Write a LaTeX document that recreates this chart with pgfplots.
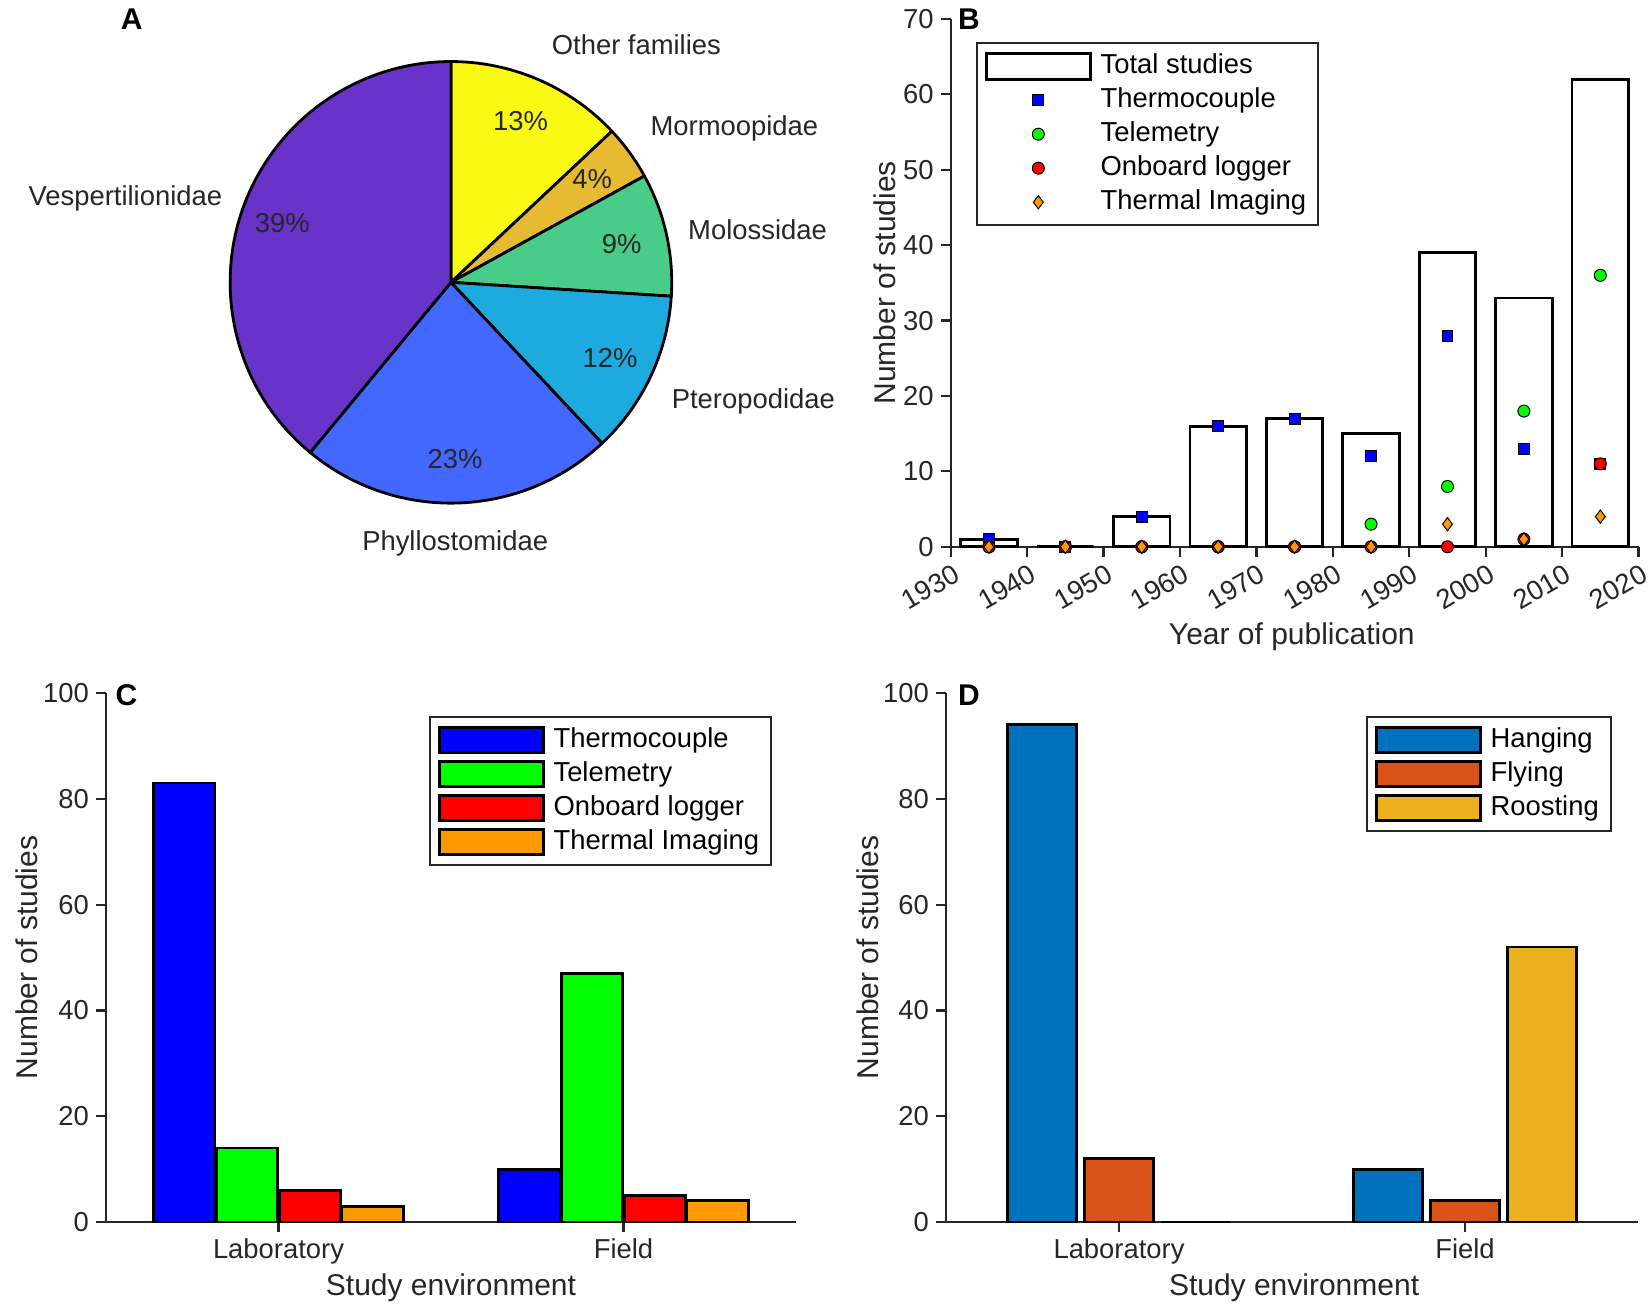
\documentclass[border=0pt]{standalone}
\usepackage{fontspec}
\setmainfont{Liberation Sans}
\usepackage{pgfplots}
\pgfplotsset{compat=1.18}
\definecolor{axgray}{RGB}{38,38,38}
\definecolor{cVesp}{RGB}{103,51,200}
\definecolor{cPhyl}{RGB}{66,104,255}
\definecolor{cPter}{RGB}{28,170,223}
\definecolor{cMol}{RGB}{73,204,136}
\definecolor{cMorm}{RGB}{230,186,51}
\definecolor{cOther}{RGB}{248,250,20}
\definecolor{cTC}{RGB}{0,0,255}
\definecolor{cTel}{RGB}{0,255,0}
\definecolor{cLog}{RGB}{255,0,0}
\definecolor{cIR}{RGB}{255,153,0}
\definecolor{cHang}{RGB}{0,114,189}
\definecolor{cFly}{RGB}{217,83,25}
\definecolor{cRoost}{RGB}{237,177,32}
\newcommand{\ticksz}{\fontsize{13.7}{16}\selectfont}
\newcommand{\labsz}{\fontsize{15}{18}\selectfont}
\pgfplotsset{
  mystyle/.style={
    scale only axis,
    axis x line*=bottom, axis y line*=left,
    x axis line style={-}, y axis line style={-},
    axis line style={line width=1.1pt, draw=axgray},
    tick align=outside,
    major tick length=5pt,
    tick style={line width=1.1pt, draw=axgray},
    tick label style={font=\ticksz, text=axgray},
    label style={font=\labsz, text=axgray},
    /pgf/number format/assume math mode=true,
    /pgf/number format/1000 sep={},
    clip=false,
    legend cell align=left,
    legend style={draw=axgray, line width=1pt, font=\ticksz, text=black,
      inner xsep=4pt, inner ysep=3.5pt, row sep=1pt,
      /tikz/every odd column/.append style={column sep=2.5pt},
      nodes={inner ysep=1.5pt, inner xsep=2pt, text height=10pt, text depth=3pt}},
  },
  barleg/.style={legend image code/.code={\draw[fill=#1,draw=black,line width=1.3pt] (0pt,-6.3pt) rectangle (52pt,6.3pt);}},
  markleg/.style={legend image code/.code={\draw[mark repeat=1] plot coordinates {(26pt,0pt)};}},
}
\begin{document}
\begin{tikzpicture}
\useasboundingbox (0,0) rectangle (826pt,656pt);

% ---------------- Panel A: pie ----------------
\begin{axis}[at={(0pt,656pt)}, anchor=north west, scale only axis,
  width=421.44pt, height=295pt, xmin=0, xmax=800, ymin=-560, ymax=0,
  hide axis, clip=false]
\fill[cOther, draw=black, line width=1.4pt, line join=round] (axis cs:428,-268) -- ++(90:110.4pt) arc[start angle=90, end angle=43.2, radius=110.4pt] -- cycle;
\fill[cMorm, draw=black, line width=1.4pt, line join=round] (axis cs:428,-268) -- ++(43.2:110.4pt) arc[start angle=43.2, end angle=28.8, radius=110.4pt] -- cycle;
\fill[cMol, draw=black, line width=1.4pt, line join=round] (axis cs:428,-268) -- ++(28.8:110.4pt) arc[start angle=28.8, end angle=-3.6, radius=110.4pt] -- cycle;
\fill[cPter, draw=black, line width=1.4pt, line join=round] (axis cs:428,-268) -- ++(-3.6:110.4pt) arc[start angle=-3.6, end angle=-46.8, radius=110.4pt] -- cycle;
\fill[cPhyl, draw=black, line width=1.4pt, line join=round] (axis cs:428,-268) -- ++(-46.8:110.4pt) arc[start angle=-46.8, end angle=-129.6, radius=110.4pt] -- cycle;
\fill[cVesp, draw=black, line width=1.4pt, line join=round] (axis cs:428,-268) -- ++(-129.6:110.4pt) arc[start angle=-129.6, end angle=-270, radius=110.4pt] -- cycle;
\begin{scope}[every node/.style={font=\ticksz, text=axgray, inner sep=0pt}]
\node at (axis cs:494,-115) {13\%};
\node at (axis cs:562,-170) {4\%};
\node at (axis cs:590,-232) {9\%};
\node at (axis cs:579,-340) {12\%};
\node at (axis cs:432,-436) {23\%};
\node at (axis cs:268,-212) {39\%};
\node at (axis cs:604,-42) {Other families};
\node at (axis cs:697,-122) {Mormoopidae};
\node at (axis cs:719,-218) {Molossidae};
\node at (axis cs:715,-381) {Pteropodidae};
\node at (axis cs:432,-516) {Phyllostomidae};
\node at (axis cs:119,-188) {Vespertilionidae};
\end{scope}
\end{axis}

% ---------------- Panel B ----------------
\begin{axis}[mystyle, at={(475.35pt,382.6pt)}, anchor=south west,
  width=343.9pt, height=263.9pt,
  xmin=1930, xmax=2020, ymin=0, ymax=70,
  xtick={1930,1940,...,2020}, ytick={0,10,...,70},
  x tick label style={rotate=30, anchor=north east, inner sep=1pt, yshift=-2pt},
  xlabel={Year of publication}, ylabel={Number of studies},
  xlabel style={at={(axis description cs:0.496,-0.171)}, anchor=center},
  ylabel style={at={(axis description cs:-0.0955,0.5)}, anchor=center},
  legend style={at={(rel axis cs:0.0368,0.956)}, anchor=north west},
]
\addplot[ybar, bar width=7.4, bar shift=0, fill=white, draw=black, line width=1.4pt,
  legend image code/.code={\draw[fill=white,draw=black,line width=1.3pt] (0pt,-6.5pt) rectangle (52pt,6.5pt);}]
  coordinates {(1935,1) (1945,0) (1955,4) (1965,16) (1975,17) (1985,15) (1995,39) (2005,33) (2015,62)};
\addlegendentry{Total studies}
\addplot[only marks, mark=square*, mark size=2.7pt, mark options={fill=cTC, draw=black, line width=0.5pt}, markleg]
  coordinates {(1935,1) (1945,0) (1955,4) (1965,16) (1975,17) (1985,12) (1995,28) (2005,13) (2015,11)};
\addlegendentry{Thermocouple}
\addplot[only marks, mark=*, mark size=3pt, mark options={fill=cTel, draw=black, line width=0.5pt}, markleg]
  coordinates {(1935,0) (1945,0) (1955,0) (1965,0) (1975,0) (1985,3) (1995,8) (2005,18) (2015,36)};
\addlegendentry{Telemetry}
\addplot[only marks, mark=*, mark size=3pt, mark options={fill=cLog, draw=black, line width=0.5pt}, markleg]
  coordinates {(1935,0) (1945,0) (1955,0) (1965,0) (1975,0) (1985,0) (1995,0) (2005,1) (2015,11)};
\addlegendentry{Onboard logger}
\addplot[only marks, mark=diamond*, mark size=3.3pt, mark options={fill=cIR, draw=black, line width=0.5pt}, markleg]
  coordinates {(1935,0) (1945,0) (1955,0) (1965,0) (1975,0) (1985,0) (1995,3) (2005,1) (2015,4)};
\addlegendentry{Thermal Imaging}
\end{axis}

% ---------------- Panel C ----------------
\begin{axis}[mystyle, at={(53pt,45pt)}, anchor=south west,
  width=345pt, height=264.5pt,
  xmin=0.5, xmax=2.5, ymin=0, ymax=100,
  xtick={1,2}, xticklabels={Laboratory,Field}, ytick={0,20,...,100},
  xlabel={Study environment}, ylabel={Number of studies},
  xlabel style={at={(axis description cs:0.5,-0.124)}, anchor=center},
  ylabel style={at={(axis description cs:-0.115,0.5)}, anchor=center},
  legend style={at={(rel axis cs:0.468,0.9565)}, anchor=north west},
]
\addplot[ybar, bar width=0.178, bar shift=-0.273, fill=cTC, draw=black, line width=1.4pt, barleg=cTC]
  coordinates {(1,83) (2,10)};
\addlegendentry{Thermocouple}
\addplot[ybar, bar width=0.178, bar shift=-0.091, fill=cTel, draw=black, line width=1.4pt, barleg=cTel]
  coordinates {(1,14) (2,47)};
\addlegendentry{Telemetry}
\addplot[ybar, bar width=0.178, bar shift=0.091, fill=cLog, draw=black, line width=1.4pt, barleg=cLog]
  coordinates {(1,6) (2,5)};
\addlegendentry{Onboard logger}
\addplot[ybar, bar width=0.178, bar shift=0.273, fill=cIR, draw=black, line width=1.4pt, barleg=cIR]
  coordinates {(1,3) (2,4)};
\addlegendentry{Thermal Imaging}
\end{axis}

% ---------------- Panel D ----------------
\begin{axis}[mystyle, at={(473pt,45pt)}, anchor=south west,
  width=346pt, height=264.5pt,
  xmin=0.5, xmax=2.5, ymin=0, ymax=100,
  xtick={1,2}, xticklabels={Laboratory,Field}, ytick={0,20,...,100},
  xlabel={Study environment}, ylabel={Number of studies},
  xlabel style={at={(axis description cs:0.503,-0.124)}, anchor=center},
  ylabel style={at={(axis description cs:-0.113,0.5)}, anchor=center},
  legend style={at={(rel axis cs:0.607,0.9565)}, anchor=north west},
]
\addplot[ybar, bar width=0.2, bar shift=-0.222, fill=cHang, draw=black, line width=1.4pt, barleg=cHang]
  coordinates {(1,94) (2,10)};
\addlegendentry{Hanging}
\addplot[ybar, bar width=0.2, bar shift=0, fill=cFly, draw=black, line width=1.4pt, barleg=cFly]
  coordinates {(1,12) (2,4)};
\addlegendentry{Flying}
\addplot[ybar, bar width=0.2, bar shift=0.222, fill=cRoost, draw=black, line width=1.4pt, barleg=cRoost]
  coordinates {(1,0) (2,52)};
\addlegendentry{Roosting}
\end{axis}

% panel letters
\begin{scope}[every node/.style={font=\bfseries\labsz, text=black, inner sep=0pt}]
\node at (65.9pt,646.5pt) {A};
\node at (484.5pt,646.5pt) {B};
\node at (63.2pt,308.3pt) {C};
\node at (484.5pt,308.3pt) {D};
\end{scope}
\end{tikzpicture}
\end{document}
